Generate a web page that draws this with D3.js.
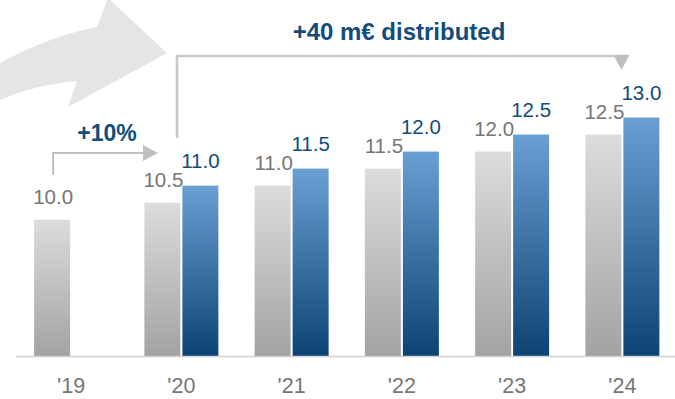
<!DOCTYPE html>
<html>
<head>
<meta charset="utf-8">
<script src="https://cdn.jsdelivr.net/npm/d3@7/dist/d3.min.js"></script>
<style>
  html, body { margin: 0; padding: 0; background: #fff; }
  svg { display: block; font-family: "Liberation Sans", Arial, sans-serif; }
</style>
</head>
<body>
<svg id="chart" width="675" height="399"></svg>
<script>
// Dividend per year (m€): previous plan vs. new plan
const years = ["'19", "'20", "'21", "'22", "'23", "'24"];
const previousPlan = [10.0, 10.5, 11.0, 11.5, 12.0, 12.5];
const newPlan = [null, 11.0, 11.5, 12.0, 12.5, 13.0];
const seriesKeys = ["previous", "new"];
const growthLabel = "+10%";
const totalLabel = "+40 m€ distributed";

const svg = d3.select("#chart");
const W = 675;
const baseY = 356;

const rows = years.map((y, i) => ({ year: y, previous: previousPlan[i], new: newPlan[i] }));

const x0 = d3.scaleBand().domain(years).range([16, 677.5]).padding(0);
const xc = d => x0(d) + x0.bandwidth() / 2;
const x1 = d3.scaleBand().domain(seriesKeys).range([-37, 37]).paddingInner(0.0526);
const y = d3.scaleLinear().domain([6, 13]).range([baseY, 117.5]);

const defs = svg.append("defs");
function grad(id, top, bottom) {
  const g = defs.append("linearGradient").attr("id", id)
    .attr("x1", 0).attr("y1", 0).attr("x2", 0).attr("y2", 1);
  g.append("stop").attr("offset", "0%").attr("stop-color", top);
  g.append("stop").attr("offset", "100%").attr("stop-color", bottom);
}
grad("gGrey", "#dcdcdc", "#a3a3a3");
grad("gBlue", "#6a9fd3", "#0b4474");

// Decorative curved arrow in the top-left corner
svg.append("path")
  .attr("d", "M0,63 Q50,36 97,27 L108,-2 L167,53 L68,107 L77,81 Q36,84 0,100 Z")
  .attr("fill", "#e5e5e5");

// Bars
const fills = { previous: "url(#gGrey)", new: "url(#gBlue)" };
const labelColors = { previous: "#767676", new: "#124c7c" };
const labelGap = { previous: 16, new: 18 };

const groups = svg.append("g").selectAll("g").data(rows).join("g")
  .attr("transform", d => `translate(${xc(d.year)},0)`);

const cells = groups.selectAll("g.cell")
  .data(d => seriesKeys.filter(k => d[k] != null).map(k => ({ key: k, value: d[k] })))
  .join("g").attr("class", "cell");

cells.append("rect")
  .attr("x", d => x1(d.key))
  .attr("width", x1.bandwidth())
  .attr("y", d => y(d.value))
  .attr("height", d => baseY - y(d.value))
  .attr("fill", d => fills[d.key]);

cells.append("text")
  .attr("x", d => x1(d.key) + x1.bandwidth() / 2 + (d.key === "previous" ? 1 : 0))
  .attr("y", d => y(d.value) - labelGap[d.key])
  .attr("text-anchor", "middle")
  .attr("font-size", "20.5px")
  .attr("fill", d => labelColors[d.key])
  .text(d => d3.format(".1f")(d.value));

// Baseline
svg.append("line")
  .attr("x1", 16).attr("x2", W)
  .attr("y1", baseY + 0.5).attr("y2", baseY + 0.5)
  .attr("stroke", "#d0d0d0").attr("stroke-width", 1.5);

// Category axis labels
const xAxis = d3.axisBottom(x0).tickSize(0).tickPadding(0);
const ax = svg.append("g").attr("transform", `translate(0,${baseY})`).call(xAxis);
ax.select(".domain").remove();
ax.selectAll("text")
  .attr("dy", 0).attr("y", 37)
  .attr("font-size", "21.5px")
  .attr("font-family", "\"Liberation Sans\", Arial, sans-serif")
  .attr("fill", "#767676");

// Growth arrow between '19 and '20
const arrowColor = "#c0c0c0";
const xa = xc(years[0]) - 18;
svg.append("path")
  .attr("d", `M${xa},175 L${xa},153 L144,153`)
  .attr("fill", "none").attr("stroke", arrowColor).attr("stroke-width", 2);
svg.append("path")
  .attr("d", "M143,145 L158,153 L143,161 Z")
  .attr("fill", arrowColor);
svg.append("text")
  .attr("x", 107).attr("y", 141)
  .attr("text-anchor", "middle")
  .attr("font-size", "23px").attr("font-weight", "bold")
  .attr("fill", "#124c7c")
  .text(growthLabel);

// Bracket over the new-plan years
svg.append("path")
  .attr("d", "M177,138 L177,56 L628,56")
  .attr("fill", "none").attr("stroke", "#c8c8c8").attr("stroke-width", 2.5);
svg.append("path")
  .attr("d", "M613.5,55 L629.5,55 L621.5,70 Z")
  .attr("fill", arrowColor);
svg.append("text")
  .attr("x", 399).attr("y", 40)
  .attr("text-anchor", "middle")
  .attr("font-size", "24px").attr("font-weight", "bold")
  .attr("fill", "#124c7c")
  .text(totalLabel);
</script>
</body>
</html>
